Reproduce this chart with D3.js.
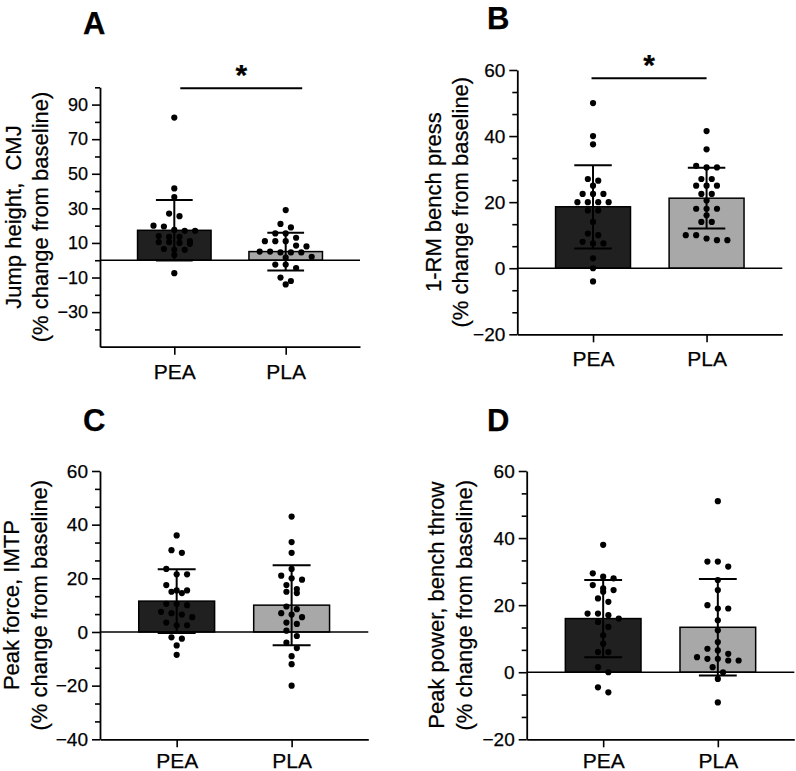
<!DOCTYPE html>
<html>
<head>
<meta charset="utf-8">
<script src="https://cdnjs.cloudflare.com/ajax/libs/d3/7.8.5/d3.min.js"></script>
<style>
    body { margin: 0; background: #fff; }
    svg text { font-family: "Liberation Sans", Arial, sans-serif; fill: #000; stroke: #000; stroke-width: 0.25px; }
</style>
</head>
<body>
<div id="chart"></div>
<script>
// values (% change from baseline)
const groups = ["PEA", "PLA"];

// A - jump height, CMJ
const jumpPEA = [82.5, 41.5, 36.5, 27, 25.5, 20, 19.5, 17.5, 17, 17, 14, 13.5, 13.5, 11, 10.5, 10.5, 10, 9.5, 6.5, 6, 6, 3, -7.5];
const jumpPLA = [29, 21, 19, 15.5, 15.5, 13, 11, 11, 11, 8.5, 8, 5, 5, 4.5, 4.5, 4.5, 2, 1.5, -2.5, -2.5, -4.5, -10, -12, -14];
const jumpMean = [17.3, 5.0];
const jumpSD = [17.5, 10.9];
const jumpTicks = [90, 70, 50, 30, 10, -10, -30];

// B - 1-RM bench press
const pressPEA = [50, 40, 37.5, 27, 26.5, 25, 22.5, 22.5, 22.5, 20, 20, 20, 20, 17.5, 17.5, 14, 10.5, 10, 8, 7.5, 7.5, 3, 0, -4];
const pressPLA = [41.5, 36, 31, 30.5, 30.5, 27, 27, 25, 25, 25, 22.5, 22.5, 20.5, 18, 18, 18, 16, 14, 14, 10, 10, 8.5, 9, 8.5];
const pressMean = [18.6, 21.2];
const pressSD = [12.6, 9.2];
const pressTicks = [60, 40, 20, 0, -20];

// C - peak force, IMTP
const forcePEA = [36, 30.5, 29.5, 23.5, 21.5, 21.5, 17.5, 15, 15.5, 15.5, 14.5, 10.5, 10.5, 10, 7, 5.5, 6.5, 7.5, 2.5, 3.5, 2.5, -2.5, -2, -5, -8.5];
const forcePLA = [43, 33.5, 29.5, 23.5, 21, 20, 19.5, 17.5, 16, 15, 14.5, 9.5, 8.5, 7, 6.5, 5.5, 3.5, 3, 0.5, -1.5, -4, -6, -9, -12, -20];
const forceMean = [11.5, 10.0];
const forceSD = [11.9, 14.9];
const forceTicks = [60, 40, 20, 0, -20, -40];

// D - peak power, bench throw
const powerPEA = [38, 29.5, 28.5, 28, 26, 25, 24.5, 24, 22, 21, 17.5, 17.5, 17, 16, 15, 13.5, 11, 8.5, 6, 6, 1.5, 0, -4.5, -6];
const powerPLA = [51, 33, 33, 31.5, 27.5, 24.5, 20, 19, 19, 15.5, 12.5, 9, 6.5, 7, 5.5, 4, 3.5, 4, 3.5, 4.5, 1.5, 0, -2, -9];
const powerMean = [16.0, 13.4];
const powerSD = [11.5, 14.4];
const powerTicks = [60, 40, 20, 0, -20];


class BarDotPanel {
    constructor(_svg, _config, _points, _mean, _sd) {
        this.svg = _svg;
        this.config = _config;
        this.points = _points;
        this.mean = _mean;
        this.sd = _sd;

        this.initVis();
    }

    initVis() {
        let vis = this;
        let c = vis.config;

        vis.g = vis.svg.append("g").attr("class", "panel");

        vis.x = d3.scalePoint()
            .domain(groups)
            .range([c.left, c.right])
            .padding(0.667);

        vis.y = d3.scaleLinear()
            .domain(c.domain)
            .range([c.bottom, c.top]);

        vis.barWidth = vis.x.step() * 0.66;

        // minor ticks
        let minor = [];
        let n = Math.round((c.domain[1] - c.domain[0]) / c.minorStep);
        for (let i = 0; i <= n; i++) {
            let v = c.domain[0] + i * c.minorStep;
            if (v > c.domain[0] + 0.01 && !c.ticks.some(t => Math.abs(t - v) < 0.01)) minor.push(v);
        }

        vis.g.append("g")
            .attr("class", "y-minor")
            .attr("transform", "translate(" + c.left + ",0)")
            .call(d3.axisLeft(vis.y).tickValues(minor).tickSize(5).tickFormat(""))
            .call(g => g.select(".domain").remove())
            .selectAll("line").attr("stroke-width", 1.6);

        vis.yAxis = vis.g.append("g")
            .attr("class", "y-axis axis")
            .attr("transform", "translate(" + c.left + ",0)")
            .call(d3.axisLeft(vis.y).tickValues(c.ticks).tickSize(8).tickSizeOuter(0).tickPadding(4));
        vis.yAxis.attr("font-size", c.tickFont).attr("font-family", null);

        vis.xAxis = vis.g.append("g")
            .attr("class", "x-axis axis")
            .attr("transform", "translate(0," + c.bottom + ")")
            .call(d3.axisBottom(vis.x).tickSize(8).tickSizeOuter(0).tickPadding(c.labelPad));
        vis.xAxis.attr("font-size", 21).attr("font-family", null);

        vis.g.selectAll(".axis .domain").attr("stroke-width", 1.8);
        vis.g.selectAll(".axis .tick line").attr("stroke-width", 1.6);

        // axis title, two lines
        c.titles.forEach(function(t, i) {
            vis.g.append("text")
                .attr("transform", "translate(" + c.titleX[i] + "," + ((c.top + c.bottom) / 2) + ") rotate(-90)")
                .attr("text-anchor", "middle")
                .attr("font-size", 22)
                .style("white-space", "pre")
                .text(t);
        });

        // panel letter
        vis.g.append("text")
            .attr("x", c.letter[0])
            .attr("y", c.letter[1])
            .attr("font-size", 31)
            .attr("font-weight", "bold")
            .text(c.id);

        // significance bar
        if (c.sig) {
            let x1 = vis.x(groups[0]) + c.sig.dx[0];
            let x2 = vis.x(groups[1]) + c.sig.dx[1];
            vis.g.append("line")
                .attr("x1", x1).attr("x2", x2)
                .attr("y1", vis.y(c.sig.value)).attr("y2", vis.y(c.sig.value))
                .attr("stroke", "#000").attr("stroke-width", 2);
            vis.g.append("text")
                .attr("x", (x1 + x2) / 2)
                .attr("y", vis.y(c.sig.value) - 3)
                .attr("text-anchor", "middle")
                .attr("font-size", 30)
                .attr("font-weight", "bold")
                .text("*");
        }

        vis.wrangleData();
    }

    wrangleData() {
        let vis = this;

        // column scatter: points close in y share a row, centred on the group
        vis.dots = [];
        groups.forEach(function(grp, gi) {
            let pts = vis.points[gi].map(v => ({ group: grp, v: v, py: vis.y(v) }))
                .sort((a, b) => a.py - b.py);
            let rows = [];
            pts.forEach(function(p) {
                let row = rows[rows.length - 1];
                if (row && p.py - row[0].py < 5.5) row.push(p);
                else rows.push([p]);
            });
            rows.forEach(row => row.forEach((p, i) => { p.dx = (i - (row.length - 1) / 2) * 10.4; }));
            vis.dots = vis.dots.concat(pts);
        });

        vis.updateVis();
    }

    updateVis() {
        let vis = this;
        let c = vis.config;
        let bw = vis.barWidth;

        vis.g.selectAll(".bar")
            .data(groups)
            .enter()
            .append("rect")
            .attr("class", "bar")
            .attr("x", d => vis.x(d) - bw / 2)
            .attr("width", bw)
            .attr("y", (d, i) => Math.min(vis.y(vis.mean[i]), vis.y(0)))
            .attr("height", (d, i) => Math.abs(vis.y(0) - vis.y(vis.mean[i])))
            .attr("fill", (d, i) => i === 0 ? "#202020" : "#a8a8a8")
            .attr("stroke", "#000")
            .attr("stroke-width", 1.5);

        // zero line
        vis.g.append("line")
            .attr("x1", c.left).attr("x2", c.right)
            .attr("y1", vis.y(0)).attr("y2", vis.y(0))
            .attr("stroke", "#000").attr("stroke-width", 1.6);

        // error bars (mean +/- SD)
        let err = vis.g.selectAll(".err")
            .data(groups)
            .enter()
            .append("g")
            .attr("class", "err")
            .attr("stroke", "#000")
            .attr("stroke-width", 2);
        err.append("line")
            .attr("x1", d => vis.x(d)).attr("x2", d => vis.x(d))
            .attr("y1", (d, i) => vis.y(vis.mean[i] - vis.sd[i]))
            .attr("y2", (d, i) => vis.y(vis.mean[i] + vis.sd[i]));
        err.append("line")
            .attr("x1", d => vis.x(d) - bw / 4).attr("x2", d => vis.x(d) + bw / 4)
            .attr("y1", (d, i) => vis.y(vis.mean[i] + vis.sd[i]))
            .attr("y2", (d, i) => vis.y(vis.mean[i] + vis.sd[i]));
        err.append("line")
            .attr("x1", d => vis.x(d) - bw / 4).attr("x2", d => vis.x(d) + bw / 4)
            .attr("y1", (d, i) => vis.y(vis.mean[i] - vis.sd[i]))
            .attr("y2", (d, i) => vis.y(vis.mean[i] - vis.sd[i]));

        vis.g.selectAll(".dot")
            .data(vis.dots)
            .enter()
            .append("circle")
            .attr("class", "dot")
            .attr("cx", d => vis.x(d.group) + d.dx)
            .attr("cy", d => d.py)
            .attr("r", 3.1)
            .attr("fill", "#000");
    }
}

let svg = d3.select("#chart").append("svg")
    .attr("width", 796)
    .attr("height", 771);

new BarDotPanel(svg, {
    id: "A", left: 100, right: 360, top: 87.3, bottom: 346.7,
    domain: [-50, 100], ticks: jumpTicks, minorStep: 10, tickFont: 18, labelPad: 9,
    titles: ["Jump height,  CMJ", "(% change from baseline)"], titleX: [21, 47.5],
    letter: [83, 34], sig: { dx: [6, 16.5], value: 99.5 }
}, [jumpPEA, jumpPLA], jumpMean, jumpSD);

new BarDotPanel(svg, {
    id: "B", left: 517.3, right: 782.3, top: 70, bottom: 334.3,
    domain: [-20, 60], ticks: pressTicks, minorStep: 20 / 3, tickFont: 19, labelPad: 9,
    titles: ["1-RM bench press", "(% change from baseline)"], titleX: [440.5, 467.5],
    letter: [487, 28.5], sig: { dx: [-1.5, 0], value: 57.5 }
}, [pressPEA, pressPLA], pressMean, pressSD);

new BarDotPanel(svg, {
    id: "C", left: 100, right: 368.3, top: 471, bottom: 739.3,
    domain: [-40, 60], ticks: forceTicks, minorStep: 20 / 3, tickFont: 19, labelPad: 6,
    titles: ["Peak force, IMTP", "(% change from baseline)"], titleX: [19, 46.5],
    letter: [83, 430.5]
}, [forcePEA, forcePLA], forceMean, forceSD);

new BarDotPanel(svg, {
    id: "D", left: 526.7, right: 794.3, top: 471, bottom: 739.3,
    domain: [-20, 60], ticks: powerTicks, minorStep: 20 / 3, tickFont: 19, labelPad: 6,
    titles: ["Peak power, bench throw", "(% change from baseline)"], titleX: [444, 471.5],
    letter: [487, 430.5]
}, [powerPEA, powerPLA], powerMean, powerSD);
</script>
</body>
</html>
